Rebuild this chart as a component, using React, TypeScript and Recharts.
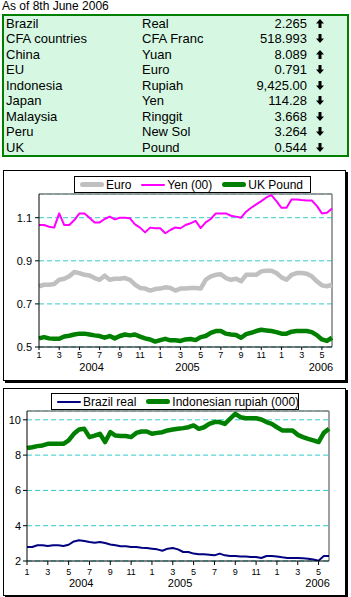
import React from "react";
import {
  LineChart,
  Line,
  XAxis,
  YAxis,
  CartesianGrid,
  ReferenceLine,
} from "recharts";

// ---- rate table ----
const countries = ["Brazil", "CFA countries", "China", "EU", "Indonesia", "Japan", "Malaysia", "Peru", "UK"];
const currencies = ["Real", "CFA Franc", "Yuan", "Euro", "Rupiah", "Yen", "Ringgit", "New Sol", "Pound"];
const rates = ["2.265", "518.993", "8.089", "0.791", "9,425.00", "114.28", "3.668", "3.264", "0.544"];
const moves = ["up", "down", "up", "down", "down", "down", "down", "down", "down"];

// ---- series, half-month steps from Jan 2004 ----
const euro = [
  0.782, 0.789, 0.789, 0.792, 0.812, 0.817, 0.828, 0.848, 0.843, 0.835,
  0.832, 0.82, 0.812, 0.831, 0.812, 0.817, 0.817, 0.82, 0.812, 0.789,
  0.774, 0.771, 0.762, 0.769, 0.771, 0.777, 0.774, 0.762, 0.771, 0.771,
  0.774, 0.774, 0.771, 0.812, 0.828, 0.835, 0.838, 0.82, 0.812, 0.817,
  0.805, 0.835, 0.835, 0.835, 0.851, 0.854, 0.854, 0.843, 0.823, 0.812,
  0.835, 0.843, 0.843, 0.84, 0.828, 0.805, 0.786, 0.782, 0.789,
];
const yen = [
  1.066, 1.066, 1.058, 1.054, 1.12, 1.066, 1.066, 1.089, 1.12, 1.12,
  1.1, 1.078, 1.078, 1.094, 1.105, 1.092, 1.1, 1.1, 1.097, 1.069,
  1.054, 1.032, 1.054, 1.051, 1.051, 1.028, 1.043, 1.055, 1.051, 1.066,
  1.074, 1.085, 1.052, 1.078, 1.094, 1.12, 1.12, 1.12, 1.109, 1.105,
  1.1, 1.128, 1.146, 1.162, 1.177, 1.194, 1.205, 1.177, 1.146, 1.146,
  1.185, 1.185, 1.182, 1.18, 1.18, 1.155, 1.12, 1.123, 1.143,
];
const pound = [
  0.54, 0.546, 0.54, 0.538, 0.538, 0.549, 0.552, 0.558, 0.562, 0.562,
  0.558, 0.554, 0.551, 0.543, 0.551, 0.54, 0.551, 0.558, 0.554, 0.558,
  0.548, 0.54, 0.535, 0.525, 0.532, 0.538, 0.531, 0.531, 0.528, 0.535,
  0.537, 0.532, 0.546, 0.551, 0.566, 0.574, 0.574, 0.562, 0.558, 0.556,
  0.543, 0.56, 0.566, 0.574, 0.58, 0.577, 0.574, 0.569, 0.562, 0.562,
  0.571, 0.574, 0.574, 0.574, 0.569, 0.555, 0.535, 0.528, 0.543,
];
const real = [
  2.79, 2.79, 2.89, 2.89, 2.85, 2.89, 2.89, 2.85, 2.92, 3.11,
  3.17, 3.13, 3.08, 3.04, 3.08, 3.02, 2.94, 2.89, 2.83, 2.83,
  2.79, 2.79, 2.75, 2.74, 2.7, 2.66, 2.58, 2.7, 2.74, 2.66,
  2.51, 2.51, 2.42, 2.38, 2.38, 2.36, 2.32, 2.42, 2.32, 2.28,
  2.28, 2.26, 2.26, 2.23, 2.23, 2.17, 2.28, 2.28, 2.26, 2.21,
  2.17, 2.17, 2.17, 2.15, 2.13, 2.08, 2.02, 2.28, 2.28,
];
const rupiah = [
  8.4, 8.45, 8.51, 8.55, 8.64, 8.64, 8.64, 8.64, 8.83, 9.21,
  9.45, 9.49, 9.02, 9.11, 9.21, 8.74, 9.3, 9.11, 9.08, 9.08,
  9.02, 9.26, 9.34, 9.34, 9.21, 9.26, 9.3, 9.4, 9.45, 9.49,
  9.53, 9.58, 9.68, 9.49, 9.58, 9.77, 9.87, 9.87, 9.77, 10.06,
  10.34, 10.15, 10.09, 10.09, 10.09, 10.02, 9.87, 9.77, 9.58, 9.4,
  9.4, 9.4, 9.15, 9.02, 8.92, 8.83, 8.74, 9.26, 9.49,
];

const monthTicks = [0, 2, 4, 6, 8, 10, 12, 14, 16, 18, 20, 22, 24, 26, 28];
const yearTicks = [5.2, 14.7, 27.9];
const yearLabels = ["2004", "2005", "2006"];
const ticksTop = [0.5, 0.7, 0.9, 1.1];
const ticksBottom = [2, 4, 6, 8, 10];

const data = euro.map((e, i) => ({
  t: i / 2,
  euro: e,
  yen: yen[i],
  pound: pound[i],
  real: real[i],
  rupiah: rupiah[i],
}));

const FONT = "'Liberation Sans', Arial, sans-serif";
const GRID = "#33cccc";

const Arrow = ({ dir }: { dir: string }) => (
  <svg width="8" height="9" viewBox="0 0 8 9" style={{ display: "block" }}>
    <g transform={dir === "up" ? "" : "rotate(180 4 4.5)"}>
      <polygon points="4,0 8,4.5 5.5,4.5 5.5,9 2.5,9 2.5,4.5 0,4.5" fill="#000" />
    </g>
  </svg>
);

function RateTable() {
  return (
    <>
      <div style={{ position: "absolute", left: 2, top: 0, fontSize: 12, lineHeight: "13px", whiteSpace: "nowrap" }}>
        As of 8th June 2006
      </div>
      <div
        style={{
          position: "absolute",
          left: 2,
          top: 14,
          width: 343,
          height: 139,
          border: "2px solid #008000",
          background: "#d6f8e2",
          fontSize: 13,
        }}
      >
        {countries.map((c, i) => (
          <div key={c} style={{ position: "relative", height: 15.44, lineHeight: "15.44px", whiteSpace: "nowrap" }}>
            <span style={{ position: "absolute", left: 2 }}>{c}</span>
            <span style={{ position: "absolute", left: 138 }}>{currencies[i]}</span>
            <span style={{ position: "absolute", right: 40 }}>{rates[i]}</span>
            <span style={{ position: "absolute", left: 312, top: 3 }}>
              <Arrow dir={moves[i]} />
            </span>
          </div>
        ))}
      </div>
    </>
  );
}

interface LegendItem {
  name: string;
  color: string;
  width: number;
}

function LegendBox({ items, left, top, width }: { items: LegendItem[]; left: number; top: number; width: number }) {
  return (
    <div
      style={{
        position: "absolute",
        left,
        top,
        width,
        height: 17,
        border: "1px solid #000",
        background: "#fff",
        display: "flex",
        alignItems: "center",
        paddingLeft: 5,
        boxSizing: "border-box",
        fontSize: 12,
        whiteSpace: "nowrap",
        overflow: "visible",
        zIndex: 2,
      }}
    >
      {items.map((it, i) => (
        <div key={it.name} style={{ display: "flex", alignItems: "center", flexShrink: 0, marginLeft: i ? 10 : 0 }}>
          <div
            style={{
              width: 24,
              height: it.width,
              background: it.color,
              borderRadius: it.width / 2,
              marginRight: 2,
              flexShrink: 0,
            }}
          />
          <span>{it.name}</span>
        </div>
      ))}
    </div>
  );
}

const frame: React.CSSProperties = {
  position: "absolute",
  left: 3,
  width: 341,
  border: "1px solid #000",
  boxShadow: "2px 2px 0 #000",
  background: "#fff",
};

export default function App() {
  return (
    <div style={{ position: "absolute", left: 0, top: 0, width: 351, height: 597, fontFamily: FONT, color: "#000", overflow: "hidden" }}>
      <RateTable />

      <div style={{ ...frame, top: 170, height: 209 }}>
        <LegendBox
          left={70}
          top={5}
          width={237}
          items={[
            { name: "Euro", color: "#c0c0c0", width: 5 },
            { name: "Yen (00)", color: "#ff00ff", width: 2 },
            { name: "UK Pound", color: "#008000", width: 5 },
          ]}
        />
        <LineChart width={341} height={209} data={data} margin={{ top: 23, right: 13, left: 5, bottom: 5 }}>
          <CartesianGrid xAxisId="m" vertical={false} stroke={GRID} strokeDasharray="5 3" />
          <XAxis
            xAxisId="m"
            dataKey="t"
            type="number"
            domain={[0, 29]}
            ticks={monthTicks}
            interval={0}
            tickFormatter={(v) => String((v % 12) + 1)}
            tick={{ fontSize: 9, fill: "#000", fontFamily: FONT }}
            tickSize={3}
            tickMargin={2}
            height={12}
            axisLine={{ stroke: "#000" }}
            tickLine={{ stroke: "#000" }}
          />
          <XAxis
            xAxisId="yr"
            dataKey="t"
            type="number"
            domain={[0, 29]}
            ticks={yearTicks}
            interval={0}
            tickFormatter={(v) => yearLabels[yearTicks.indexOf(v)]}
            tick={{ fontSize: 11, fill: "#000", fontFamily: FONT }}
            tickSize={0}
            tickMargin={4}
            height={16}
            axisLine={false}
            tickLine={false}
          />
          <YAxis
            domain={[0.5, 1.21]}
            ticks={ticksTop}
            interval={0}
            allowDataOverflow
            tickFormatter={(v) => v.toFixed(1)}
            tick={{ fontSize: 11, fill: "#000", fontFamily: FONT }}
            width={30}
            tickSize={4}
            tickMargin={3}
            axisLine={{ stroke: "#000" }}
            tickLine={{ stroke: "#000" }}
          />
          <ReferenceLine xAxisId="m" y={1.21} stroke="#808080" strokeWidth={1.5} />
          <ReferenceLine xAxisId="m" x={29} stroke="#808080" strokeWidth={1.5} />
          <Line xAxisId="m" dataKey="euro" stroke="#c0c0c0" strokeWidth={4.5} dot={false} isAnimationActive={false} strokeLinejoin="round" />
          <Line xAxisId="m" dataKey="yen" stroke="#ff00ff" strokeWidth={2} dot={false} isAnimationActive={false} strokeLinejoin="round" />
          <Line xAxisId="m" dataKey="pound" stroke="#008000" strokeWidth={4.5} dot={false} isAnimationActive={false} strokeLinejoin="round" />
        </LineChart>
      </div>

      <div style={{ ...frame, top: 388, height: 206 }}>
        <LegendBox
          left={47}
          top={4}
          width={248}
          items={[
            { name: "Brazil real", color: "#000080", width: 2 },
            { name: "Indonesian rupiah (000)", color: "#008000", width: 5 },
          ]}
        />
        <LineChart width={341} height={206} data={data} margin={{ top: 22, right: 16, left: 3, bottom: 4 }}>
          <CartesianGrid xAxisId="m" vertical={false} stroke={GRID} strokeDasharray="5 3" />
          <XAxis
            xAxisId="m"
            dataKey="t"
            type="number"
            domain={[0, 29]}
            ticks={monthTicks}
            interval={0}
            tickFormatter={(v) => String((v % 12) + 1)}
            tick={{ fontSize: 9, fill: "#000", fontFamily: FONT }}
            tickSize={4}
            tickMargin={4}
            height={14}
            axisLine={{ stroke: "#000" }}
            tickLine={{ stroke: "#000" }}
          />
          <XAxis
            xAxisId="yr"
            dataKey="t"
            type="number"
            domain={[0, 29]}
            ticks={yearTicks}
            interval={0}
            tickFormatter={(v) => yearLabels[yearTicks.indexOf(v)]}
            tick={{ fontSize: 11, fill: "#000", fontFamily: FONT }}
            tickSize={0}
            tickMargin={4}
            height={16}
            axisLine={false}
            tickLine={false}
          />
          <YAxis
            domain={[2, 10.5]}
            ticks={ticksBottom}
            interval={0}
            allowDataOverflow
            tick={{ fontSize: 11, fill: "#000", fontFamily: FONT }}
            width={20}
            tickSize={4}
            tickMargin={2}
            axisLine={{ stroke: "#000" }}
            tickLine={{ stroke: "#000" }}
          />
          <ReferenceLine xAxisId="m" y={10.5} stroke="#808080" strokeWidth={1.5} />
          <ReferenceLine xAxisId="m" x={29} stroke="#808080" strokeWidth={1.5} />
          <Line xAxisId="m" dataKey="real" stroke="#000080" strokeWidth={2} dot={false} isAnimationActive={false} strokeLinejoin="round" />
          <Line xAxisId="m" dataKey="rupiah" stroke="#008000" strokeWidth={4.5} dot={false} isAnimationActive={false} strokeLinejoin="round" />
        </LineChart>
      </div>
    </div>
  );
}
